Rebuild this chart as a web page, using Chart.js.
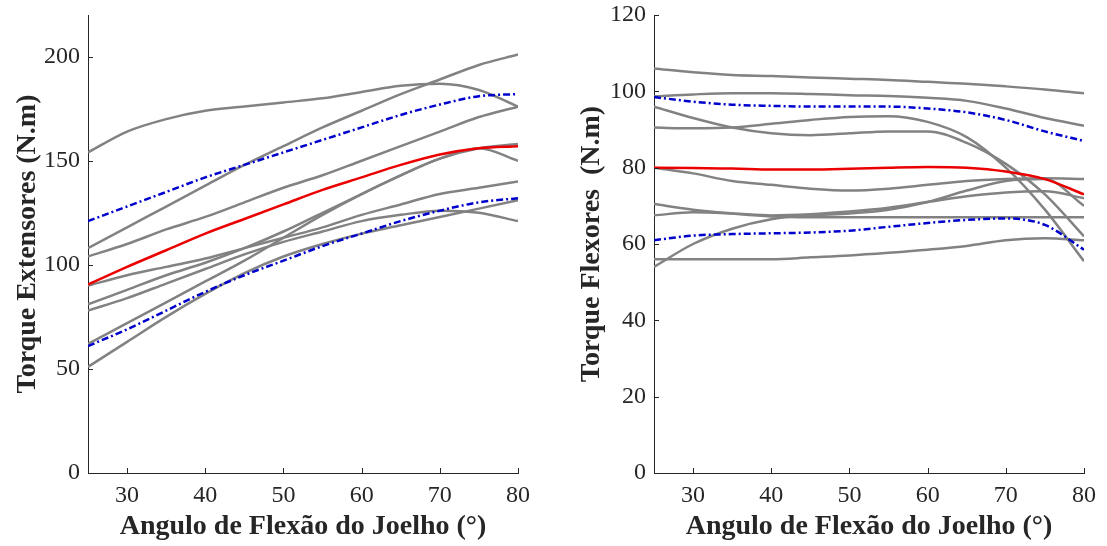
<!DOCTYPE html>
<html>
<head>
<meta charset="utf-8">
<script src="https://cdn.jsdelivr.net/npm/chart.js@4"></script>
<style>
  html, body { margin: 0; padding: 0; background: #fff; }
  #wrap { position: relative; width: 1107px; height: 546px; }
  canvas { position: absolute; top: 0; }
</style>
</head>
<body>
<div id="wrap">
  <canvas id="graficoExtensores" width="553" height="546" style="left:0"></canvas>
  <canvas id="graficoFlexores" width="554" height="546" style="left:553px"></canvas>
</div>
<script>
// angulos de flexao do joelho (graus)
const angulos = [25, 30, 35, 40, 45, 50, 55, 60, 65, 70, 75, 80];

// --- torque extensores (N.m) ---
const extMedia = [90.5, 99, 107, 115, 122, 129, 136, 142, 148, 153, 156, 157];
const extDpSup = [121, 128, 135, 142, 148, 154, 160, 166, 172, 177, 181, 182];
const extDpInf = [61, 69, 78, 87, 95, 102, 109, 115, 121, 126, 130, 132];
const extSujeitos = [
  [154, 164, 170, 174, 176, 178, 180, 183, 186, 187, 184, 176],
  [108, 118, 128, 138, 148, 157, 166, 174, 182, 189, 196, 201],
  [104, 110, 117, 123, 130, 137, 143, 150, 157, 164, 171, 176],
  [90, 95, 99, 103, 108, 113, 118, 124, 129, 134, 137, 140],
  [81, 88, 95, 101, 108, 116, 125, 134, 143, 151, 156, 158],
  [78, 84, 91, 98, 105, 111, 116, 121, 124, 126, 125, 121],
  [62, 72, 82, 92, 102, 113, 124, 134, 143, 151, 156, 150],
  [51, 63, 75, 86, 96, 104, 110, 115, 119, 123, 127, 131]
];

// --- torque flexores (N.m) ---
const flexMedia = [80, 79.9, 79.8, 79.5, 79.5, 79.7, 80, 80.2, 80, 79, 77, 73];
const flexDpSup = [98.5, 97.3, 96.5, 96.2, 96, 96, 96, 95.5, 94.5, 92.5, 89.5, 87];
const flexDpInf = [61, 62.2, 62.6, 62.8, 63, 63.5, 64.5, 65.5, 66.3, 66.7, 65, 58.5];
const flexSujeitos = [
  [106, 105, 104.3, 104, 103.6, 103.3, 103, 102.5, 102, 101.3, 100.5, 99.5],
  [98.7, 99.2, 99.5, 99.5, 99.3, 99, 98.8, 98.3, 97.5, 95.5, 93, 91],
  [96, 93, 90.5, 89, 88.5, 89, 89.5, 89.5, 86.5, 81, 73, 62],
  [90.5, 90.3, 90.5, 91.5, 92.5, 93.3, 93.5, 92, 88, 80, 69, 55.5],
  [80, 78.5, 76.5, 75.5, 74.5, 74, 74.5, 75.5, 76.5, 77, 77.2, 77],
  [70.5, 69, 68, 67.2, 67, 67, 67, 67, 67, 67, 67, 67],
  [67.5, 68.3, 68, 67.5, 67.8, 68.5, 69.5, 71, 72.5, 73.5, 73.8, 72],
  [54, 60, 64, 66.5, 67.5, 68, 69, 71, 74, 76.5, 77, 70],
  [56, 56, 56, 56, 56.5, 57, 57.7, 58.5, 59.5, 61, 61.5, 61]
];

const corEixo = '#262626';
const fonte = "'Liberation Serif', 'Times New Roman', serif";

function pontos(valores) {
  return valores.map((v, i) => ({ x: angulos[i], y: v }));
}

function montarDatasets(media, sup, inf, sujeitos) {
  const linha = { pointRadius: 0, borderWidth: 2.5, fill: false, cubicInterpolationMode: 'monotone' };
  const ds = [
    { ...linha, data: pontos(media), borderColor: 'rgb(235, 0, 0)' },
    { ...linha, data: pontos(sup), borderColor: 'rgb(0, 0, 205)', borderDash: [7, 3, 2, 3] },
    { ...linha, data: pontos(inf), borderColor: 'rgb(0, 0, 205)', borderDash: [7, 3, 2, 3] }
  ];
  sujeitos.forEach(s => ds.push({ ...linha, data: pontos(s), borderColor: 'rgb(130, 130, 130)' }));
  return ds;
}

// marcas dos ticks para dentro (estilo MATLAB)
const ticksInternos = {
  id: 'ticksInternos',
  afterDraw(chart) {
    const { ctx, chartArea: a, scales: { x, y } } = chart;
    ctx.save();
    ctx.strokeStyle = corEixo;
    ctx.lineWidth = 1;
    ctx.beginPath();
    x.ticks.forEach(t => {
      const px = Math.round(x.getPixelForValue(t.value)) + 0.5;
      ctx.moveTo(px, a.bottom);
      ctx.lineTo(px, a.bottom - 5);
    });
    y.ticks.forEach(t => {
      const py = Math.round(y.getPixelForValue(t.value)) + 0.5;
      ctx.moveTo(a.left, py);
      ctx.lineTo(a.left + 5, py);
    });
    ctx.stroke();
    ctx.restore();
  }
};

function criarGrafico(id, datasets, yMax, yPasso, tituloY, larguraY, padDir, padTitulo) {
  return new Chart(document.getElementById(id), {
    type: 'line',
    data: { datasets },
    options: {
      responsive: false,
      animation: false,
      devicePixelRatio: 1,
      layout: { padding: { top: 15, right: padDir, left: 0, bottom: 0 } },
      plugins: { legend: { display: false }, tooltip: { enabled: false } },
      scales: {
        x: {
          type: 'linear',
          min: 25,
          max: 80,
          grid: { display: false, drawTicks: false },
          border: { display: true, color: corEixo, width: 1 },
          ticks: { stepSize: 10, includeBounds: false, padding: 8, color: corEixo, font: { family: fonte, size: 24 } },
          title: {
            display: true,
            text: 'Angulo de Flexão do Joelho (°)',
            color: corEixo,
            font: { family: fonte, size: 28, weight: 'bold' },
            padding: { top: 0, bottom: 2 }
          },
          afterFit: s => { s.height = 73; s.paddingLeft = 0; s.paddingRight = 0; }
        },
        y: {
          min: 0,
          max: yMax,
          grid: { display: false, drawTicks: false },
          border: { display: true, color: corEixo, width: 1 },
          ticks: { stepSize: yPasso, includeBounds: false, padding: 8, color: corEixo, font: { family: fonte, size: 24 } },
          title: {
            display: true,
            text: tituloY,
            color: corEixo,
            font: { family: fonte, size: 28, weight: 'bold' },
            padding: { top: padTitulo, bottom: 0 }
          },
          afterFit: s => { s.width = larguraY; s.paddingTop = 0; s.paddingBottom = 0; }
        }
      }
    },
    plugins: [ticksInternos]
  });
}

criarGrafico('graficoExtensores',
  montarDatasets(extMedia, extDpSup, extDpInf, extSujeitos),
  220, 50, 'Torque Extensores (N.m)', 88, 35, 11);

criarGrafico('graficoFlexores',
  montarDatasets(flexMedia, flexDpSup, flexDpInf, flexSujeitos),
  120, 20, 'Torque Flexores  (N.m)', 101, 23, 22);
</script>
</body>
</html>
